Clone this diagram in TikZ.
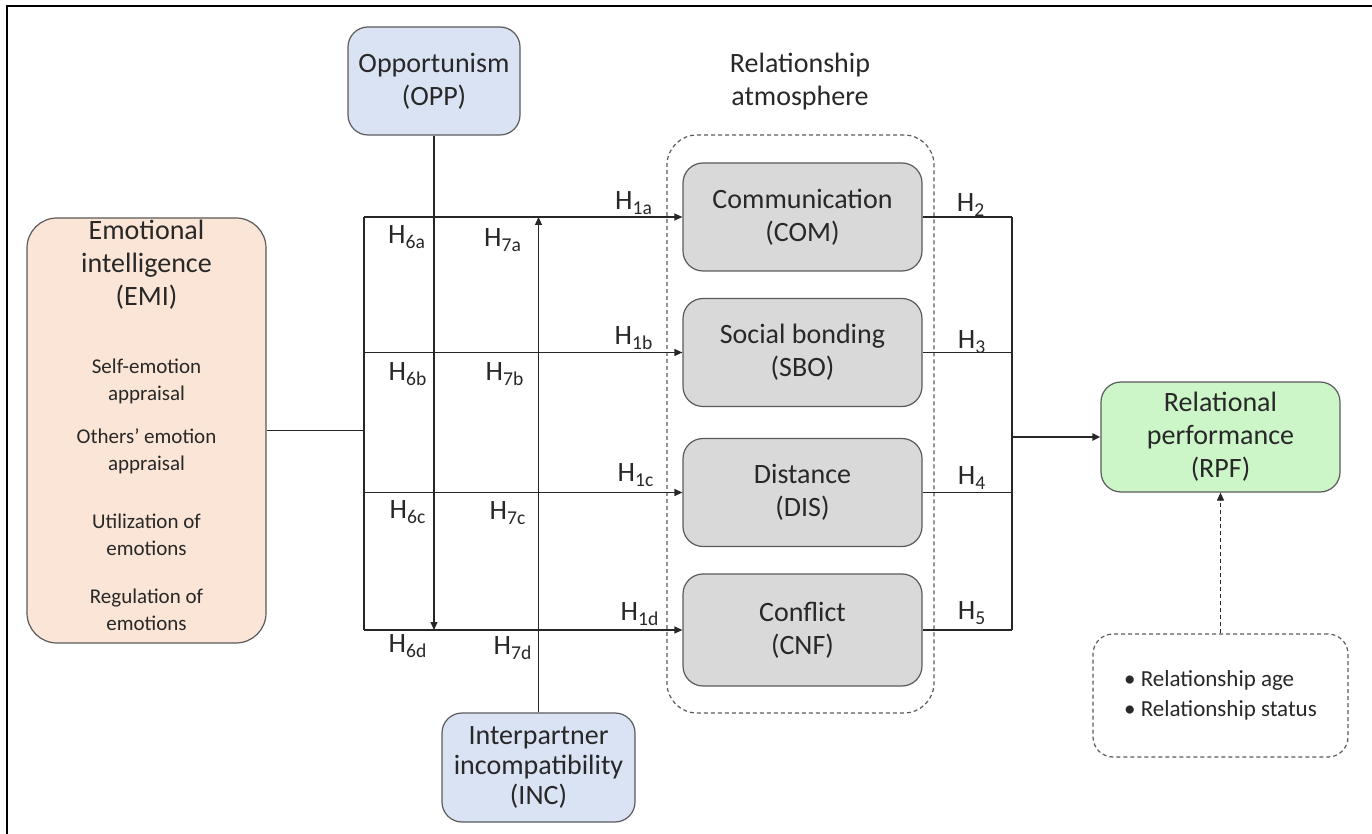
\documentclass[tikz,border=0pt]{standalone}
\usepackage{fontspec}
\setmainfont{Carlito}
\usetikzlibrary{arrows.meta}
\definecolor{emifill}{RGB}{251,229,214}
\definecolor{bluefill}{RGB}{218,227,243}
\definecolor{grayfill}{RGB}{217,217,217}
\definecolor{greenfill}{RGB}{204,246,200}
\definecolor{edgec}{RGB}{90,90,90}
\definecolor{txt}{RGB}{40,40,40}
\begin{document}
\begin{tikzpicture}[x=0.5pt,y=-0.5pt,
  box/.style={draw=edgec, line width=0.6pt, rounded corners=10pt, align=center, inner sep=0pt, text=txt, font=\fontsize{14}{16.5}\selectfont},
  smalltxt/.style={align=center, inner sep=0pt, text=txt, font=\fontsize{10.5}{13.5}\selectfont},
  conn/.style={draw=black!85, line width=0.6pt},
  arr/.style={conn, -{Triangle[length=4pt,width=3.5pt]}},
  hlab/.style={text=txt, inner sep=0pt, font=\fontsize{14}{16}\selectfont},
  dashbox/.style={draw=edgec, line width=0.6pt, dash pattern=on 2pt off 1.5pt}]

\useasboundingbox (0,0) rectangle (1372,834);
\draw[line width=1pt] (7,834) -- (7,6) -- (1372,6);

% EMI
\node[box, fill=emifill, rounded corners=15pt, minimum width=119.5pt, minimum height=212.5pt] (emi) at (146.5,430.5) {};
\node[box, draw=none, fill=none] (emit) at (146.5,265) {Emotional\\intelligence\\(EMI)};
\node[smalltxt] (s1) at (146.5,381) {Self-emotion\\appraisal};
\node[smalltxt] (s2) at (146.5,451) {Others' emotion\\appraisal};
\node[smalltxt] (s3) at (146.5,535) {Utilization of\\emotions};
\node[smalltxt] (s4) at (146.5,610) {Regulation of\\emotions};

% moderators
\node[box, fill=bluefill, minimum width=86pt, minimum height=54pt] (opp) at (434,81) {Opportunism\\(OPP)};
\node[box, fill=bluefill, minimum width=96.5pt, minimum height=54.5pt, font=\fontsize{14}{15}\selectfont] (inc) at (538.5,767.5) {Interpartner\\incompatibility\\(INC)};

% relationship atmosphere
\node[dashbox, rounded corners=15pt, minimum width=133.5pt, minimum height=289pt] (ra) at (800.5,424) {};
\node[box, draw=none] (rat) at (800,82) {Relationship\\atmosphere};
\node[box, fill=grayfill, minimum width=119.5pt, minimum height=54pt] (com) at (802.5,217) {Communication\\(COM)};
\node[box, fill=grayfill, minimum width=119.5pt, minimum height=54pt] (sbo) at (802.5,352.5) {Social bonding\\(SBO)};
\node[box, fill=grayfill, minimum width=119.5pt, minimum height=54pt] (dis) at (802.5,492.5) {Distance\\(DIS)};
\node[box, fill=grayfill, minimum width=119.5pt, minimum height=56pt] (cnf) at (802.5,630) {Conflict\\(CNF)};

% outcome
\node[box, fill=greenfill, minimum width=119.5pt, minimum height=55pt] (rpf) at (1220.5,437) {Relational\\performance\\(RPF)};
\node[dashbox, rounded corners=10pt, minimum width=127.5pt, minimum height=61.5pt, align=left, text=txt, inner sep=0pt, font=\fontsize{11.5}{15}\selectfont] (ctrl) at (1220.5,695.5) {\textbullet\ Relationship age\\\textbullet\ Relationship status};

% left bus
\coordinate (bus) at (364,430.5);
\coordinate (b1) at (364,217);
\coordinate (b2) at (364,352.5);
\coordinate (b3) at (364,492.5);
\coordinate (b4) at (364,630);
\draw[conn] (emi.east) -- (bus);
\draw[conn] (b1) -- (b4);
\draw[arr] (b1) -- (com.west);
\draw[arr] (b2) -- (sbo.west);
\draw[arr] (b3) -- (dis.west);
\draw[arr] (b4) -- (cnf.west);

% moderating lines
\draw[arr] (opp.south) -- (opp.south |- cnf.west);
\draw[arr] (inc.north) -- (inc.north |- com.west);

% right bus
\coordinate (r1) at (1012,217);
\coordinate (r2) at (1012,352.5);
\coordinate (r3) at (1012,492.5);
\coordinate (r4) at (1012,630);
\draw[conn] (com.east) -- (r1);
\draw[conn] (sbo.east) -- (r2);
\draw[conn] (dis.east) -- (r3);
\draw[conn] (cnf.east) -- (r4);
\draw[conn] (r1) -- (r4);
\draw[arr, line width=1pt] (r1 |- rpf.west) -- (rpf.west);
\draw[arr, dash pattern=on 2pt off 1.5pt] (ctrl.north) -- (rpf.south);

% hypothesis labels
\node[hlab] (h6a) at (407,237) {H\textsubscript{6a}};
\node[hlab] (h7a) at (503,240) {H\textsubscript{7a}};
\node[hlab] (h1a) at (634,203) {H\textsubscript{1a}};
\node[hlab] (h6b) at (408,374) {H\textsubscript{6b}};
\node[hlab] (h7b) at (505,374) {H\textsubscript{7b}};
\node[hlab] (h1b) at (634,338) {H\textsubscript{1b}};
\node[hlab] (h6c) at (408,512) {H\textsubscript{6c}};
\node[hlab] (h7c) at (508,513) {H\textsubscript{7c}};
\node[hlab] (h1c) at (636,475) {H\textsubscript{1c}};
\node[hlab] (h6d) at (408,646) {H\textsubscript{6d}};
\node[hlab] (h7d) at (513,648) {H\textsubscript{7d}};
\node[hlab] (h1d) at (640,614) {H\textsubscript{1d}};
\node[hlab] (h2) at (971,205) {H\textsubscript{2}};
\node[hlab] (h3) at (972,342) {H\textsubscript{3}};
\node[hlab] (h4) at (972,478) {H\textsubscript{4}};
\node[hlab] (h5) at (972,613) {H\textsubscript{5}};
\end{tikzpicture}
\end{document}
